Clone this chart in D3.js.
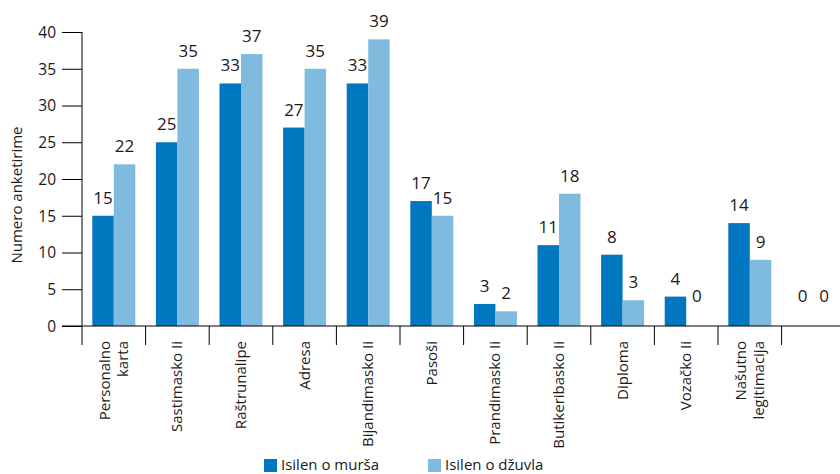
<!DOCTYPE html>
<html><head><meta charset="utf-8">
<script src="https://cdn.jsdelivr.net/npm/d3@7"></script>
<style>body{margin:0;background:#fff}svg{display:block}text{font-family:"Open Sans",sans-serif;fill:#1a1a1a}</style>
</head><body>
<svg id="c" width="840" height="474"></svg>
<script>
const categories = [["Personalno","karta"],["Sastimasko Ii"],["Raštrunalipe"],["Adresa"],["Bijandimasko Ii"],["Pasoši"],["Prandimasko Ii"],["Butikeribasko Ii"],["Diploma"],["Vozačko Ii"],["Našutno","legitimacija"],[""]];
const seriesNames = ["Isilen o murša","Isilen o džuvla"];
const murshaValues = [15,25,33,27,33,17,3,11,9.7,4,14,0];
const murshaLabels = ["15","25","33","27","33","17","3","11","8","4","14","0"];
const dzhuvlaValues = [22,35,37,35,39,15,2,18,3.5,0,9,0];
const dzhuvlaLabels = ["22","35","37","35","39","15","2","18","3","0","9","0"];
const yTicks = [0,5,10,15,20,25,30,35,40];
const colors = ["#0077bf","#7fbadf"];

const svg = d3.select("#c");
const x0 = 82, yBase = 326;
const x = d3.scaleBand().domain(d3.range(categories.length)).range([x0, x0 + 63.6*categories.length]).paddingInner(0).paddingOuter(0);
const y = d3.scaleLinear().domain([0,40]).range([yBase, 32]);
const xs = d3.scaleBand().domain([0,1]).range([0, x.bandwidth()]).paddingOuter(0.48).paddingInner(0);

// y axis
const gy = svg.append("g").attr("transform",`translate(${x0},0)`)
  .call(d3.axisLeft(y).tickValues(yTicks).tickSize(20).tickPadding(6));
gy.select(".domain").attr("d",`M0,${y(40)}V${yBase}`).attr("stroke","#000");
gy.selectAll(".tick line").attr("stroke","#000");
gy.selectAll(".tick text").attr("font-size",15.5).attr("font-family","'Open Sans',sans-serif").attr("fill","#1a1a1a").attr("dy","0.35em");

// bars
const series = [murshaValues, dzhuvlaValues];
const labels = [murshaLabels, dzhuvlaLabels];
series.forEach((vals, s) => {
  svg.append("g").selectAll("rect").data(vals).join("rect")
    .attr("x",(d,i)=>x(i)+xs(s)).attr("width",xs.bandwidth())
    .attr("y",d=>y(d)).attr("height",d=>yBase-y(d)).attr("fill",colors[s]);
  svg.append("g").selectAll("text").data(vals).join("text")
    .attr("x",(d,i)=>x(i)+xs(s)+xs.bandwidth()/2)
    .attr("y",d=>y(Math.max(d,1.7))-12)
    .attr("text-anchor","middle").attr("font-size",17)
    .text((d,i)=>labels[s][i]);
});

// x axis line and ticks
svg.append("line").attr("x1",62).attr("x2",840).attr("y1",yBase).attr("y2",yBase).attr("stroke","#000");
svg.append("g").selectAll("line").data(d3.range(categories.length)).join("line")
  .attr("x1",i=>x(i)).attr("x2",i=>x(i)).attr("y1",yBase).attr("y2",yBase+19).attr("stroke","#000");

// category labels
categories.forEach((lines,i)=>{
  const cx = x(i)+x.bandwidth()/2;
  const n = lines.length;
  lines.forEach((t,k)=>{
    svg.append("text").attr("transform",`translate(${cx + (k-(n-1)/2)*18 + 5},341) rotate(-90)`)
      .attr("text-anchor","end").attr("font-size",15).text(t);
  });
});

// y axis title
svg.append("text").attr("transform","translate(22,195) rotate(-90)").attr("text-anchor","middle").attr("font-size",15).text("Numero anketirime");

// legend
const legX = [264, 428];
seriesNames.forEach((n,s)=>{
  svg.append("rect").attr("x",legX[s]).attr("y",459).attr("width",13).attr("height",13).attr("fill",colors[s]);
  svg.append("text").attr("x",legX[s]+17).attr("y",470).attr("font-size",15).text(n);
});
</script>
</body></html>
